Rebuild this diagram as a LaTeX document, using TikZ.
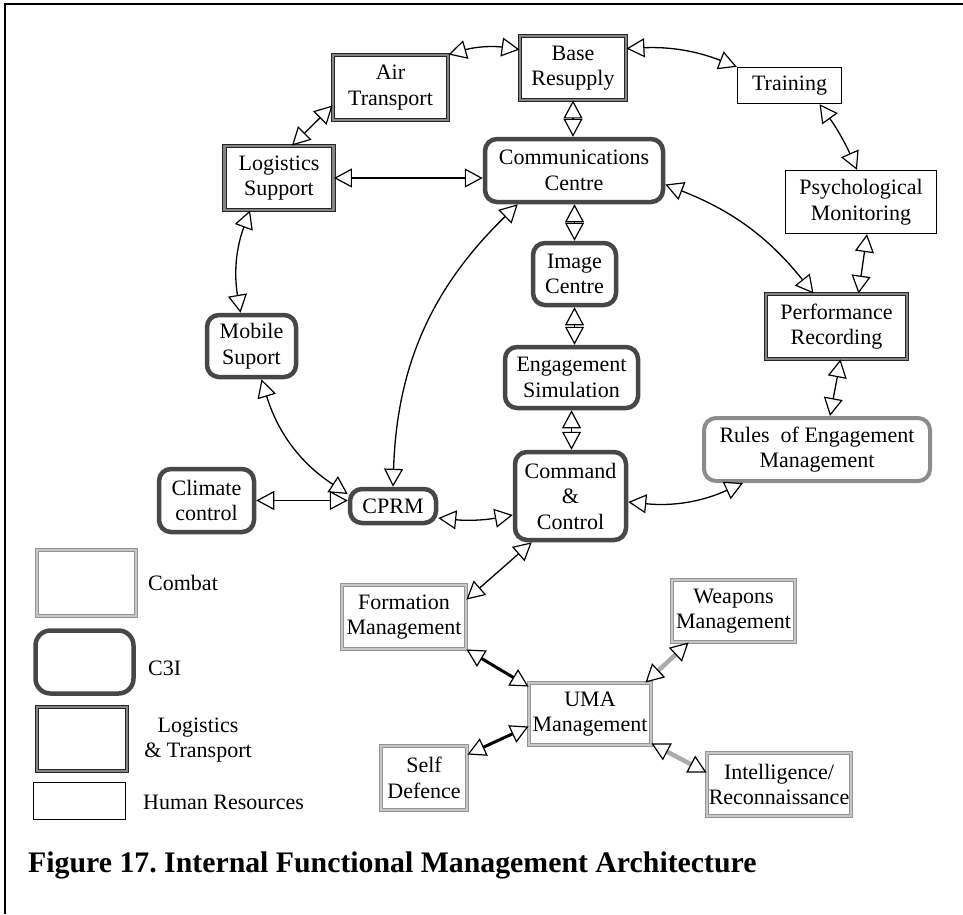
\documentclass[tikz,border=0pt]{standalone}
\usepackage{fontspec}
\setmainfont{Liberation Serif}
\usetikzlibrary{arrows.meta,calc}
\frenchspacing

\begin{document}
\begin{tikzpicture}[x=1pt,y=-1pt,
  lbl/.style={font=\fontsize{22}{25.5}\selectfont, align=center, inner sep=0pt},
  sz/.style 2 args={minimum width=#1, minimum height=#2},
  combat/.style={lbl, draw=black!42, double=black!22, line width=0.9pt, double distance=2.4pt, fill=white},
  cthree/.style={lbl, draw=black!72, line width=4.5pt, rounded corners=12pt, fill=white},
  logis/.style={lbl, draw=black!85, double=black!48, line width=0.9pt, double distance=2.4pt, fill=white},
  human/.style={lbl, draw=black, line width=1.3pt, fill=white},
  roe/.style={lbl, draw=black!45, line width=4pt, rounded corners=12pt, fill=white},
  conn/.style={draw=black, line width=1.3pt,
    {Triangle[length=18pt,width=19pt,fill=white,color=black,line width=1.2pt]}-{Triangle[length=18pt,width=19pt,fill=white,color=black,line width=1.2pt]}},
  boldconn/.style={conn, line width=3pt},
  greyconn/.style={conn, line width=4.5pt, draw=black!33},
  legendtext/.style={lbl},
]
\useasboundingbox (0,0) rectangle (963,914);

% frame lines (top and left)
\draw[line width=2.5pt] (5,914) -- (5,4) -- (963,4);

% ---- logistics & transport
\node[logis, sz={106}{64}] (base) at (573,68) {Base\\Resupply};
\node[logis, sz={115}{65}] (air) at (390.5,87.5) {Air\\Transport};
\node[logis, sz={109}{64}] (logi) at (279,178) {Logistics\\Support};
\node[logis, sz={141}{65}] (perf) at (836.5,326.5) {Performance\\Recording};

% ---- human resources
\node[human, sz={104}{36}] (train) at (789.5,85.5) {Training};
\node[human, sz={151}{63}] (psych) at (861,202) {Psychological\\Monitoring};

% ---- C3I
\node[cthree, sz={178}{63}] (comm) at (574,170.5) {Communications\\Centre};
\node[cthree, sz={83}{62}] (image) at (574.5,274) {Image\\Centre};
\node[cthree, sz={133}{61}] (eng) at (571.5,377.5) {Engagement\\Simulation};
\node[cthree, sz={111}{88}] (cc) at (570.5,496) {Command\\\&\\Control};
\node[cthree, sz={89}{62}] (mobile) at (251.5,346) {Mobile\\Suport};
\node[cthree, sz={95}{63}] (climate) at (206.5,500.5) {Climate\\control};
\node[cthree, sz={86}{34}] (cprm) at (393,506) {CPRM};
\node[roe, sz={226}{63}] (rules) at (817,449.5) {Rules\ \ of Engagement\\Management};

% ---- combat
\node[combat, sz={124}{64}] (form) at (404,617) {Formation\\Management};
\node[combat, sz={123}{62}] (weap) at (733.5,611) {Weapons\\Management};
\node[combat, sz={122}{62}] (uma) at (590,714) {UMA\\Management};
\node[combat, sz={86}{64}] (self) at (424,778) {Self\\Defence};
\node[combat, sz={144}{63}] (intel) at (779,784.5) {Intelligence/\\Reconnaissance};

% ---- connectors
\draw[conn] (air.north east) to[bend left=12] ($(base.north west)+(0,14)$);
\draw[conn] ($(base.north east)+(0,13)$) to[bend left=12] (train.north west);
\draw[conn] ($(logi.north)+(13,0)$) -- ($(air.south west)+(0,-15)$);
\draw[conn] (logi.east) -- (logi.east -| comm.west);
\draw[conn] (base.south) -- (base.south |- comm.north);
\draw[conn] (comm.south -| image.north) -- (image.north);
\draw[conn] (image.south) -- (image.south |- eng.north);
\draw[conn] (eng.south) -- (eng.south |- cc.north);
\draw[conn] ($(logi.south)+(-29,0)$) to[bend right=15] ($(mobile.north)+(-11,0)$);
\draw[conn] ($(mobile.south)+(10,0)$) to[bend right=20] ($(cprm.west)+(0,-12)$);
\draw[conn] (climate.east) -- (climate.east -| cprm.west);
\draw[conn] ($(comm.south west)+(35,0)$) to[bend right=22] (cprm.north);
\draw[conn] ($(cprm.east)+(0,12)$) to[bend right=8] ($(cc.west)+(0,19)$);
\draw[conn] ($(comm.east)+(0,14)$) to[bend left=15] ($(perf.north west)+(48,0)$);
\draw[conn] ($(train.south)+(30,0)$) to[bend left=6] ($(psych.north)+(-4,0)$);
\draw[conn] ($(psych.south)+(6,0)$) -- ($(perf.north)+(22,0)$);
\draw[conn] ($(perf.south)+(4,0)$) -- ($(rules.north)+(13,0)$);
\draw[conn] ($(rules.south west)+(41,0)$) to[bend left=15] ($(cc.east)+(0,6)$);
\draw[conn] ($(cc.south west)+(19,0)$) -- ($(form.north east)+(0,15)$);
\draw[boldconn] (form.south east) -- ($(uma.north west)+(0,4)$);
\draw[greyconn] ($(uma.north east)+(-6,0)$) -- ($(weap.south west)+(17,0)$);
\draw[boldconn] ($(uma.south west)+(0,-19)$) -- ($(self.north east)+(0,9)$);
\draw[greyconn] ($(uma.south east)+(0,-2)$) -- ($(intel.west)+(0,-12)$);

% ---- legend
\node[combat, sz={99}{66}] (lgcombat) at (86.5,583) {};
\node[cthree, sz={98}{63}, rounded corners=15pt] (lgcthree) at (84.5,662) {};
\node[logis, sz={90}{64}] (lglogis) at (82,739) {};
\node[human, sz={92}{37}] (lghuman) at (79.5,801) {};
\node[legendtext, anchor=west] (tcombat) at (148,583) {Combat};
\node[legendtext, anchor=west] (tcthree) at (148,668) {C3I};
\node[legendtext] (tlogis) at (198,740) {Logistics\\\& Transport};
\node[legendtext, anchor=west] (thuman) at (143,802) {Human Resources};

% ---- caption
\node[anchor=base west, inner sep=0pt, font=\fontsize{29.8}{32}\selectfont\bfseries] (caption) at (28,872)
  {Figure 17. Internal Functional Management Architecture};
\end{tikzpicture}
\end{document}
